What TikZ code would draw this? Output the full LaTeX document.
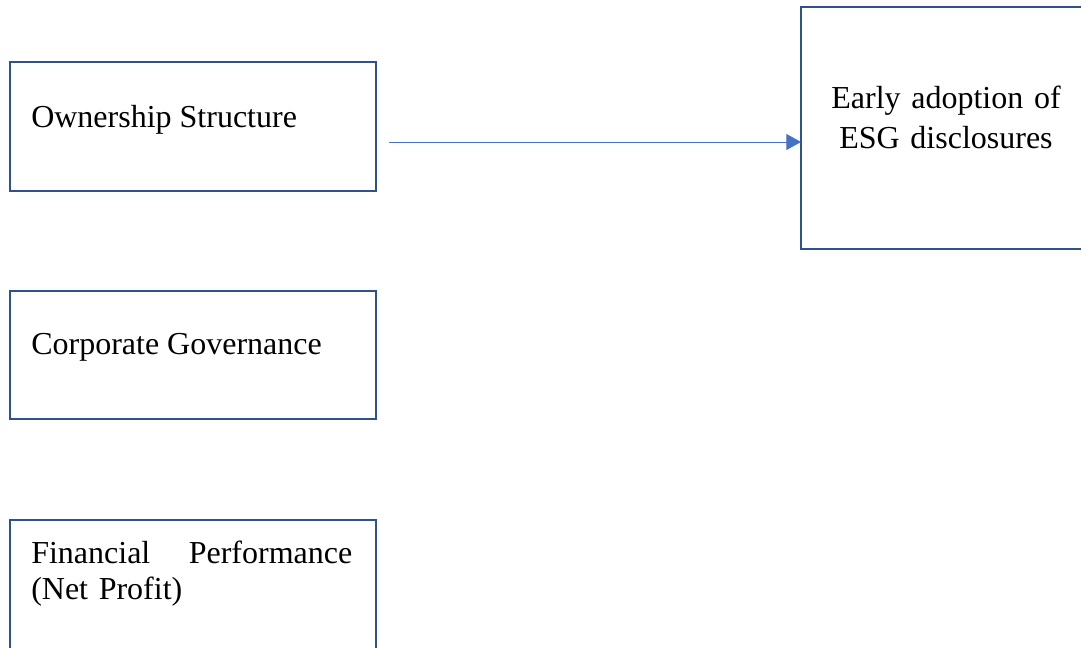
\documentclass[tikz,border=0pt]{standalone}
\usepackage{fontspec}
\setmainfont{Liberation Serif}
\usetikzlibrary{arrows.meta}
\definecolor{boxblue}{RGB}{47,82,143}
\definecolor{arrowblue}{RGB}{68,114,196}
\begin{document}
\begin{tikzpicture}[x=0.75pt,y=-0.75pt,
  box/.style={draw=boxblue, line width=1.5pt, rectangle, inner sep=0pt, outer sep=0pt, anchor=north west},
  lbl/.style={font=\fontsize{24}{27}\selectfont, inner sep=0pt, anchor=base west},
  arr/.style={draw=arrowblue, line width=0.75pt, -{Triangle[length=11pt,width=12pt]}}]
\clip (0,0) rectangle (1081,647);
\node[box, minimum width=274.5pt, minimum height=96.75pt] (b1) at (10,62) {};
\node[box, minimum width=274.5pt, minimum height=96pt] (b2) at (10,291) {};
\node[box, minimum width=274.5pt, minimum height=96.75pt] (b3) at (10,520) {};
\node[box, minimum width=218.25pt, minimum height=181.5pt] (b4) at (801,7) {};
\node[lbl] (t1) at (31,127) {Ownership Structure};
\node[lbl] (t2) at (31,354) {Corporate Governance};
\node[lbl, text width=240.75pt, align=left] (t3) at (31,563) {Financial\hfill Performance\\(Net Profit)};
\node[font=\fontsize{24}{30}\selectfont, inner sep=0pt, anchor=base, text width=210pt, align=center] (t4) at (946,108) {Early adoption of\\ESG disclosures};
\coordinate (s) at (389,142);
\draw[arr] (s) -- (s -| b4.west);
\end{tikzpicture}
\end{document}
